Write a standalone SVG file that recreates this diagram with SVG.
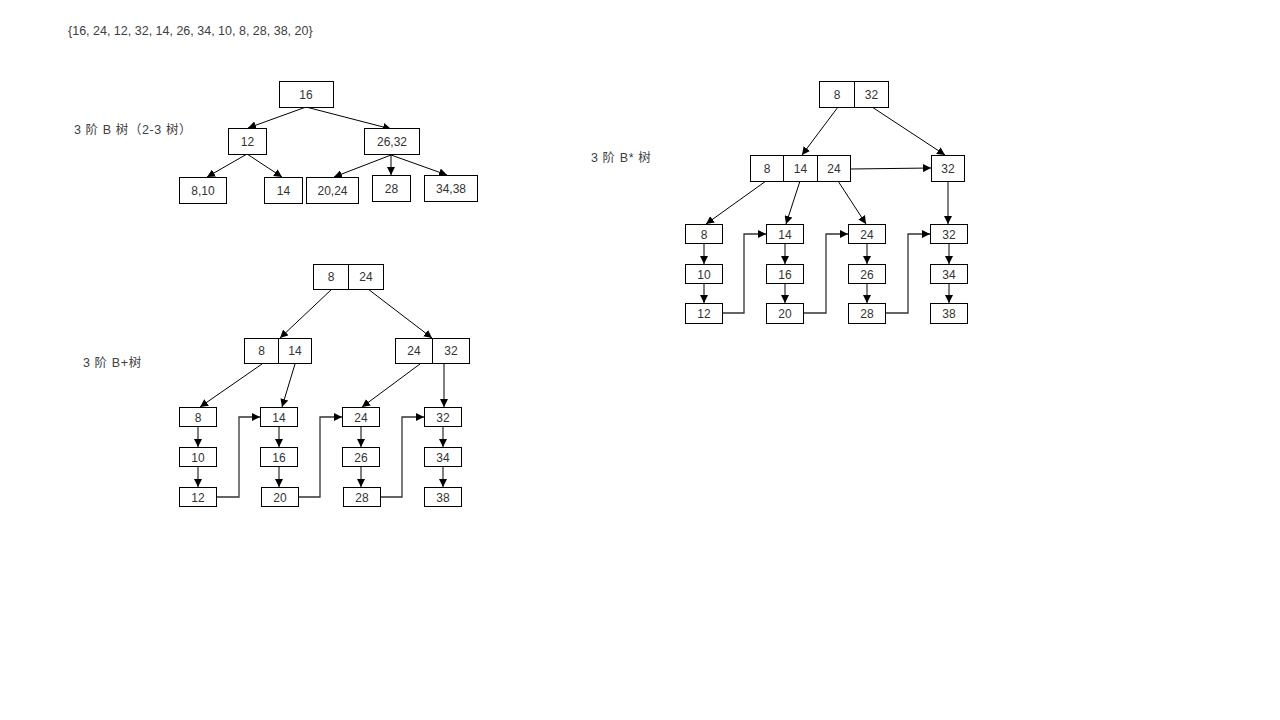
<svg xmlns="http://www.w3.org/2000/svg" width="1280" height="720" viewBox="0 0 1280 720">
<style>
.b{fill:#fff;stroke:#000;stroke-width:1}
.d{stroke:#000;stroke-width:1}
.t{font-family:"Liberation Sans","Noto Sans CJK SC",sans-serif;font-size:12px;fill:#333;text-anchor:middle}
.l{font-family:"Liberation Sans","Noto Sans CJK SC",sans-serif;font-size:12.5px;fill:#404040}
.lc{letter-spacing:0.6px}
.c{fill:none;stroke:#000;stroke-width:1;marker-end:url(#ah)}
.k{fill:none;stroke:#333;stroke-width:1.3;marker-end:url(#ah)}
</style>
<defs>
<marker id="ah" viewBox="0 0 8 8" refX="8" refY="4" markerWidth="8" markerHeight="8" orient="auto" markerUnits="userSpaceOnUse">
<path d="M0,0 L8,4 L0,8 z" fill="#000"/>
</marker>
</defs>
<rect width="1280" height="720" fill="#fff"/>
<text class="l" x="68" y="35">{16, 24, 12, 32, 14, 26, 34, 10, 8, 28, 38, 20}</text>
<text class="l lc" x="74" y="134">3 阶 B 树（2-3 树）</text>
<text class="l lc" x="83" y="367">3 阶 B+树</text>
<text class="l lc" x="591" y="162">3 阶 B* 树</text>

<g id="connectors">
<!-- B tree -->
<path class="c" d="M306,107 L248,128"/>
<path class="c" d="M306,107 L391,129"/>
<path class="c" d="M247,154 L207,177"/>
<path class="c" d="M247,154 L282,177"/>
<path class="c" d="M391,155 L334,177"/>
<path class="c" d="M391,155 L391,175"/>
<path class="c" d="M391,155 L447,175"/>
<!-- B+ tree -->
<path class="c" d="M332,289 L280,338"/>
<path class="c" d="M368,289 L432,338"/>
<path class="c" d="M262,364 L200,407"/>
<path class="c" d="M295,364 L282,407"/>
<path class="c" d="M420,364 L362,407"/>
<path class="c" d="M444,364 L444,407"/>
<path class="c" d="M198,427 L198,447"/>
<path class="c" d="M198,467 L198,487"/>
<path class="c" d="M279,427 L279,447"/>
<path class="c" d="M279,467 L279,487"/>
<path class="c" d="M361,427 L361,447"/>
<path class="c" d="M361,467 L361,487"/>
<path class="c" d="M443,427 L443,447"/>
<path class="c" d="M443,467 L443,487"/>
<path class="k" d="M217,497 H239 V417 H260"/>
<path class="k" d="M299,497 H320 V417 H342"/>
<path class="k" d="M381,497 H402 V417 H424"/>
<!-- B* tree -->
<path class="c" d="M838,107 L802,155"/>
<path class="c" d="M872,107 L945,155"/>
<path class="c" d="M851,169 L931,168"/>
<path class="c" d="M766,181 L706,224"/>
<path class="c" d="M800,181 L786,224"/>
<path class="c" d="M838,181 L866,224"/>
<path class="c" d="M948,181 L948,224"/>
<path class="c" d="M704,244 L704,264"/>
<path class="c" d="M704,284 L704,303"/>
<path class="c" d="M785,244 L785,264"/>
<path class="c" d="M785,284 L785,303"/>
<path class="c" d="M867,244 L867,264"/>
<path class="c" d="M867,284 L867,303"/>
<path class="c" d="M949,244 L949,264"/>
<path class="c" d="M949,284 L949,303"/>
<path class="k" d="M722,313 H744 V234 H766"/>
<path class="k" d="M804,313 H826 V234 H848"/>
<path class="k" d="M886,313 H908 V234 H930"/>
</g>

<!-- B tree nodes -->
<g id="b16"><rect class="b" x="279.5" y="81.5" width="54" height="26"/><text class="t" x="306" y="98.5">16</text></g>
<g id="b12"><rect class="b" x="228.5" y="128.5" width="38" height="26"/><text class="t" x="247.5" y="145.5">12</text></g>
<g id="b2632"><rect class="b" x="364.5" y="128.5" width="55" height="26"/><text class="t" x="392" y="145.5">26,32</text></g>
<g id="b810"><rect class="b" x="179.5" y="177.5" width="47" height="26"/><text class="t" x="203" y="194.5">8,10</text></g>
<g id="b14"><rect class="b" x="264.5" y="177.5" width="38" height="26"/><text class="t" x="283.5" y="194.5">14</text></g>
<g id="b2024"><rect class="b" x="306.5" y="177.5" width="52" height="26"/><text class="t" x="332.5" y="194.5">20,24</text></g>
<g id="b28"><rect class="b" x="372.5" y="175.5" width="38" height="26"/><text class="t" x="391.5" y="192.5">28</text></g>
<g id="b3438"><rect class="b" x="424.5" y="175.5" width="53" height="26"/><text class="t" x="451" y="192.5">34,38</text></g>

<!-- B+ tree nodes -->
<g id="p-root"><rect class="b" x="313.5" y="264.5" width="70" height="25"/><line class="d" x1="348.5" y1="264.5" x2="348.5" y2="289.5"/><text class="t" x="331" y="281">8</text><text class="t" x="366" y="281">24</text></g>
<g id="p-l"><rect class="b" x="244.5" y="338.5" width="67" height="25"/><line class="d" x1="278.5" y1="338.5" x2="278.5" y2="363.5"/><text class="t" x="261.5" y="355">8</text><text class="t" x="295" y="355">14</text></g>
<g id="p-r"><rect class="b" x="395.5" y="338.5" width="74" height="25"/><line class="d" x1="432.5" y1="338.5" x2="432.5" y2="363.5"/><text class="t" x="414" y="355">24</text><text class="t" x="451" y="355">32</text></g>
<g id="p8"><rect class="b" x="179.5" y="407.5" width="37" height="19"/><text class="t" x="198" y="421.5">8</text></g>
<g id="p10"><rect class="b" x="179.5" y="447.5" width="37" height="19"/><text class="t" x="198" y="461.5">10</text></g>
<g id="p12"><rect class="b" x="179.5" y="487.5" width="37" height="19"/><text class="t" x="198" y="501.5">12</text></g>
<g id="p14"><rect class="b" x="260.5" y="407.5" width="37" height="19"/><text class="t" x="279" y="421.5">14</text></g>
<g id="p16"><rect class="b" x="260.5" y="447.5" width="37" height="19"/><text class="t" x="279" y="461.5">16</text></g>
<g id="p20"><rect class="b" x="261.5" y="487.5" width="37" height="19"/><text class="t" x="280" y="501.5">20</text></g>
<g id="p24"><rect class="b" x="342.5" y="407.5" width="37" height="19"/><text class="t" x="361" y="421.5">24</text></g>
<g id="p26"><rect class="b" x="342.5" y="447.5" width="37" height="19"/><text class="t" x="361" y="461.5">26</text></g>
<g id="p28"><rect class="b" x="343.5" y="487.5" width="37" height="19"/><text class="t" x="362" y="501.5">28</text></g>
<g id="p32"><rect class="b" x="424.5" y="407.5" width="37" height="19"/><text class="t" x="443" y="421.5">32</text></g>
<g id="p34"><rect class="b" x="424.5" y="447.5" width="37" height="19"/><text class="t" x="443" y="461.5">34</text></g>
<g id="p38"><rect class="b" x="424.5" y="487.5" width="37" height="19"/><text class="t" x="443" y="501.5">38</text></g>

<!-- B* tree nodes -->
<g id="s-root"><rect class="b" x="819.5" y="81.5" width="69" height="26"/><line class="d" x1="854.5" y1="81.5" x2="854.5" y2="107.5"/><text class="t" x="837" y="98.5">8</text><text class="t" x="871.5" y="98.5">32</text></g>
<g id="s-l"><rect class="b" x="750.5" y="155.5" width="100" height="26"/><line class="d" x1="783.5" y1="155.5" x2="783.5" y2="181.5"/><line class="d" x1="817.5" y1="155.5" x2="817.5" y2="181.5"/><text class="t" x="767" y="172.5">8</text><text class="t" x="800.5" y="172.5">14</text><text class="t" x="834" y="172.5">24</text></g>
<g id="s-r"><rect class="b" x="931.5" y="155.5" width="33" height="26"/><text class="t" x="948" y="172.5">32</text></g>
<g id="s8"><rect class="b" x="685.5" y="224.5" width="37" height="19"/><text class="t" x="704" y="238.5">8</text></g>
<g id="s10"><rect class="b" x="685.5" y="264.5" width="37" height="19"/><text class="t" x="704" y="278.5">10</text></g>
<g id="s12"><rect class="b" x="685.5" y="303.5" width="37" height="20"/><text class="t" x="704" y="318">12</text></g>
<g id="s14"><rect class="b" x="766.5" y="224.5" width="37" height="19"/><text class="t" x="785" y="238.5">14</text></g>
<g id="s16"><rect class="b" x="766.5" y="264.5" width="37" height="19"/><text class="t" x="785" y="278.5">16</text></g>
<g id="s20"><rect class="b" x="766.5" y="303.5" width="37" height="20"/><text class="t" x="785" y="318">20</text></g>
<g id="s24"><rect class="b" x="848.5" y="224.5" width="37" height="19"/><text class="t" x="867" y="238.5">24</text></g>
<g id="s26"><rect class="b" x="848.5" y="264.5" width="37" height="19"/><text class="t" x="867" y="278.5">26</text></g>
<g id="s28"><rect class="b" x="848.5" y="303.5" width="37" height="20"/><text class="t" x="867" y="318">28</text></g>
<g id="s32"><rect class="b" x="930.5" y="224.5" width="37" height="19"/><text class="t" x="949" y="238.5">32</text></g>
<g id="s34"><rect class="b" x="930.5" y="264.5" width="37" height="19"/><text class="t" x="949" y="278.5">34</text></g>
<g id="s38"><rect class="b" x="930.5" y="303.5" width="37" height="20"/><text class="t" x="949" y="318">38</text></g>
</svg>
